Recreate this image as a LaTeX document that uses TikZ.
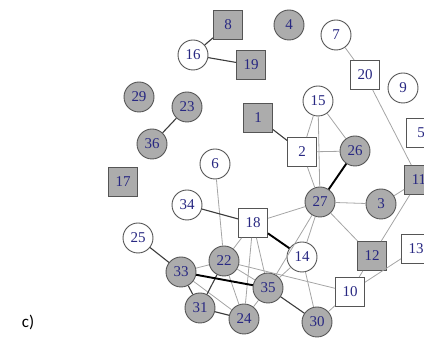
\documentclass[tikz,border=0pt]{standalone}
\usepackage{fontspec}
\setmainfont{Liberation Serif}
\newfontfamily\labelfont{Carlito}
\definecolor{navy}{RGB}{40,40,130}
\definecolor{nodegray}{RGB}{172,172,172}
\definecolor{rimgray}{RGB}{85,85,85}
\definecolor{edgelight}{RGB}{165,165,165}
\definecolor{edgedark}{RGB}{60,60,60}
\tikzset{
  vc/.style={circle,draw=rimgray,line width=0.9pt,minimum size=30pt,inner sep=0pt,text=navy,font=\fontsize{15}{15}\selectfont},
  vs/.style={rectangle,draw=rimgray,line width=0.9pt,minimum size=29pt,inner sep=0pt,text=navy,font=\fontsize{15}{15}\selectfont},
  filled/.style={fill=nodegray},
  open/.style={fill=white},
  le/.style={draw=edgelight,line width=0.8pt},
  de/.style={draw=edgedark,line width=1.1pt},
  te/.style={draw=black,line width=1.9pt}
}
\begin{document}
\begin{tikzpicture}[x=1pt,y=-1pt]
\useasboundingbox (0,0) rectangle (424,347);
\clip (0,0) rectangle (424,347);
% nodes
\node[vs,filled] (n8) at (228,25) {8};
\node[vc,filled] (n4) at (289,25) {4};
\node[vc,open] (n7) at (336,35) {7};
\node[vc,open] (n16) at (193,55) {16};
\node[vs,filled] (n19) at (251,65) {19};
\node[vs,open] (n20) at (365,75) {20};
\node[vc,open] (n9) at (403,88) {9};
\node[vc,filled] (n29) at (139,97) {29};
\node[vc,filled] (n23) at (187,107) {23};
\node[vc,open] (n15) at (318,101) {15};
\node[vs,filled] (n1) at (258,118) {1};
\node[vs,open] (n5) at (421,133) {5};
\node[vc,filled] (n36) at (152,144) {36};
\node[vs,open] (n2) at (302,152) {2};
\node[vc,filled] (n26) at (355,151) {26};
\node[vc,open] (n6) at (215,164) {6};
\node[vs,filled] (n17) at (123,182) {17};
\node[vs,filled] (n11) at (419,180) {11};
\node[vc,filled] (n27) at (320,202) {27};
\node[vc,filled] (n3) at (381,204) {3};
\node[vc,open] (n34) at (187,205) {34};
\node[vs,open] (n18) at (253,223) {18};
\node[vc,open] (n25) at (138,238) {25};
\node[vs,open] (n13) at (416,249) {13};
\node[vs,filled] (n12) at (372,256) {12};
\node[vc,open] (n14) at (302,257) {14};
\node[vc,filled] (n22) at (224,261) {22};
\node[vc,filled] (n33) at (181,272) {33};
\node[vc,filled] (n35) at (268,288) {35};
\node[vs,open] (n10) at (350,292) {10};
\node[vc,filled] (n31) at (200,308) {31};
\node[vc,filled] (n24) at (244,319) {24};
\node[vc,filled] (n30) at (317,322) {30};
\node[font=\labelfont\fontsize{17}{17}\selectfont] (lab) at (28,322) {c)};
% edges
\begin{scope}[on background layer/.style={}]
\end{scope}
\pgfsetlayers{main}
\begin{scope}
\path[le] (n7) -- (n20);
\path[le] (n20) -- (n11);
\path[le] (n15) -- (n2);
\path[le] (n15) -- (n26);
\path[le] (n15) -- (n27);
\path[le] (n2) -- (n26);
\path[le] (n2) -- (n27);
\path[le] (n27) -- (n3);
\path[le] (n27) -- (n12);
\path[le] (n27) -- (n18);
\path[le] (n27) -- (n14);
\path[le] (n27) -- (n35);
\path[le] (n3) -- (n11);
\path[le] (n11) -- (n12);
\path[le] (n12) -- (n10);
\path[le] (n10) -- (n13);
\path[le] (n10) -- (n30);
\path[le] (n22) -- (n10);
\path[le] (n6) -- (n22);
\path[le] (n18) -- (n22);
\path[le] (n18) -- (n24);
\path[le] (n18) -- (n35);
\path[le] (n22) -- (n35);
\path[le] (n22) -- (n24);
\path[le] (n33) -- (n22);
\path[le] (n33) -- (n24);
\path[le] (n24) -- (n35);
\path[le] (n14) -- (n35);
\path[le] (n14) -- (n30);
\path[de] (n8) -- (n16);
\path[de] (n16) -- (n19);
\path[de] (n23) -- (n36);
\path[de] (n1) -- (n2);
\path[de] (n25) -- (n33);
\path[de] (n33) -- (n31);
\path[de] (n31) -- (n22);
\path[de] (n31) -- (n24);
\path[de] (n35) -- (n30);
\path[de] (n34) -- (n18);
\path[te] (n26) -- (n27);
\path[te] (n33) -- (n35);
\path[te] (n18) -- (n14);
\end{scope}
\end{tikzpicture}
\end{document}
